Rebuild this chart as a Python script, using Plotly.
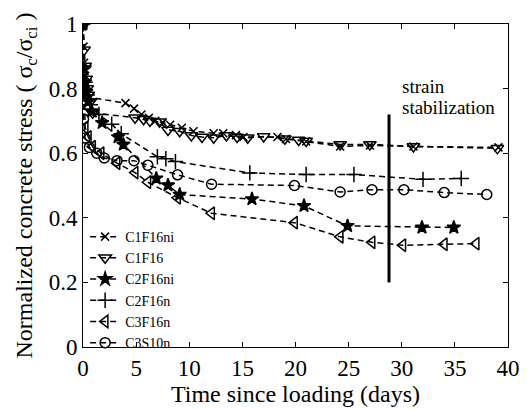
import plotly.graph_objects as go

names = ["C1F16ni", "C1F16", "C2F16ni", "C2F16n", "C3F16n", "C3S10n"]

c1f16ni_x = [0, 0.05, 0.1, 0.2, 0.3, 0.4, 0.6, 4.0, 4.8, 5.5, 6.2, 6.8, 7.5, 8.2, 9.3, 10.4, 12.3, 13.2, 14.4, 15.1, 18.3, 19.1, 21, 24.2, 27, 31.1, 39.1]
c1f16ni_y = [1, 0.93, 0.88, 0.84, 0.81, 0.79, 0.773, 0.755, 0.738, 0.72, 0.71, 0.70, 0.695, 0.688, 0.679, 0.668, 0.662, 0.662, 0.656, 0.65, 0.65, 0.644, 0.636, 0.621, 0.624, 0.621, 0.618]

c1f16_x = [0, 0.1, 0.2, 0.3, 0.4, 0.5, 0.7, 0.9, 4.9, 5.7, 6.3, 7.2, 8.0, 9.1, 10.2, 11.2, 12.3, 13.5, 14.5, 15.5, 17, 19, 20.3, 21, 24.2, 27, 31.1, 39]
c1f16_y = [1, 0.92, 0.87, 0.83, 0.80, 0.78, 0.76, 0.725, 0.71, 0.705, 0.70, 0.697, 0.672, 0.668, 0.655, 0.65, 0.648, 0.655, 0.65, 0.648, 0.652, 0.645, 0.641, 0.638, 0.627, 0.627, 0.621, 0.615]

c2f16ni_x = [0, 0.1, 0.2, 0.3, 0.5, 0.8, 1.8, 3.3, 3.8, 6.9, 8.0, 9.1, 15.9, 20.8, 24.9, 31.9, 34.9]
c2f16ni_y = [1, 0.86, 0.82, 0.79, 0.76, 0.73, 0.694, 0.65, 0.627, 0.522, 0.501, 0.472, 0.458, 0.437, 0.375, 0.37, 0.37]

c2f16n_x = [0, 0.1, 0.2, 0.4, 0.7, 1.5, 2.7, 3.6, 7.0, 7.8, 8.7, 15.7, 21, 25.5, 32, 35.6]
c2f16n_y = [1, 0.87, 0.82, 0.78, 0.75, 0.72, 0.69, 0.66, 0.589, 0.583, 0.574, 0.539, 0.534, 0.534, 0.519, 0.522]

c3f16n_x = [0, 0.1, 0.2, 0.5, 0.9, 1.7, 3.2, 4.9, 6.1, 8.9, 12.1, 19.9, 24.2, 27.2, 30.1, 34, 37]
c3f16n_y = [1, 0.8, 0.68, 0.65, 0.62, 0.6, 0.569, 0.54, 0.51, 0.462, 0.414, 0.385, 0.341, 0.324, 0.315, 0.318, 0.32]

c3s10n_x = [0, 0.05, 0.2, 0.6, 1.3, 2.0, 3.2, 4.8, 6.1, 8.9, 12.1, 19.9, 24.2, 27.2, 30.2, 34, 38]
c3s10n_y = [1, 0.706, 0.647, 0.618, 0.6, 0.585, 0.577, 0.577, 0.563, 0.533, 0.504, 0.5, 0.48, 0.487, 0.487, 0.478, 0.472]

xs = [c1f16ni_x, c1f16_x, c2f16ni_x, c2f16n_x, c3f16n_x, c3s10n_x]
ys = [c1f16ni_y, c1f16_y, c2f16ni_y, c2f16n_y, c3f16n_y, c3s10n_y]
symbols = ["x-thin-open", "triangle-down-open", "star", "cross-thin-open", "triangle-left-open", "circle-open"]
sizes = [8, 11, 10, 11, 11, 10]

stab_x = [28.8, 28.8]
stab_y = [0.2, 0.72]

x_ticks = [0, 5, 10, 15, 20, 25, 30, 35, 40]
y_ticks = [0, 0.2, 0.4, 0.6, 0.8, 1]
y_ticklabels = ["0", "0.2", "0.4", "0.6", "0.8", "1"]

FONT = "Liberation Serif"

fig = go.Figure()
for n, x, y, s, sz in zip(names, xs, ys, symbols, sizes):
    fig.add_trace(go.Scatter(
        x=x, y=y, name=n, mode="lines+markers",
        line=dict(color="black", width=1.5, dash="6px,4px"),
        marker=dict(symbol=s, size=sz, color="black",
                    line=dict(color="black", width=1.5)),
    ))

fig.add_trace(go.Scatter(x=stab_x, y=stab_y, mode="lines",
                         line=dict(color="black", width=3), showlegend=False,
                         hoverinfo="skip"))

fig.add_annotation(x=29.8, y=0.805, text="strain", showarrow=False,
                   xanchor="left", yanchor="middle", font=dict(size=19, family=FONT, color="black"))
fig.add_annotation(x=29.8, y=0.74, text="stabilization", showarrow=False,
                   xanchor="left", yanchor="middle", font=dict(size=19, family=FONT, color="black"))

axis_common = dict(showline=True, linecolor="black", linewidth=1, mirror="ticks",
                   ticks="inside", ticklen=5, tickcolor="black", showgrid=False,
                   zeroline=False, tickfont=dict(size=23, family=FONT, color="black"))

fig.update_xaxes(range=[0, 40], tickvals=x_ticks, ticklabelstandoff=0,
                 title=dict(text="Time since loading (days)", standoff=0,
                            font=dict(size=24, family=FONT, color="black")), **axis_common)
fig.update_yaxes(range=[0, 1], tickvals=y_ticks, ticktext=y_ticklabels, ticklabelstandoff=0,
                 title=dict(text="Normalized concrete stress ( σ<sub>c</sub>/σ<sub>ci</sub> )", standoff=9,
                            font=dict(size=24, family=FONT, color="black")), **axis_common)

fig.update_layout(
    width=532, height=409,
    margin=dict(l=83, r=12, t=12, b=54),
    paper_bgcolor="white", plot_bgcolor="white",
    font=dict(family=FONT, color="black"),
    legend=dict(x=0.005, y=0.39, xanchor="left", yanchor="top",
                font=dict(size=14, family=FONT, color="black"),
                bgcolor="rgba(0,0,0,0)", tracegroupgap=0, itemwidth=30),
    showlegend=True,
)

fig.write_html("out.html")
